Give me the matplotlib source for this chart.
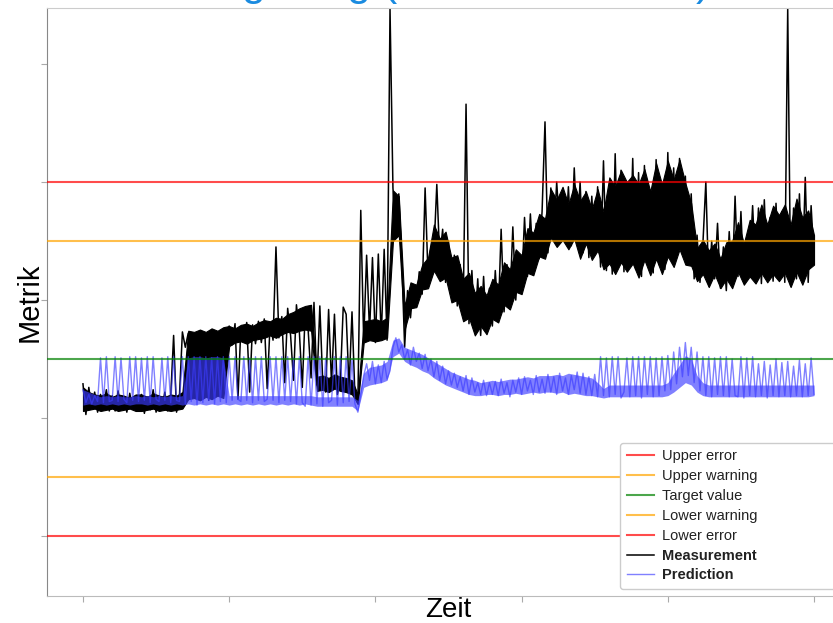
import numpy as np
import matplotlib
matplotlib.use("Agg")
import matplotlib.pyplot as plt

plt.rcParams['font.family'] = ['Liberation Sans', 'DejaVu Sans']

# limits (Metrik units)
limit_values = [65.0, 60.0, 50.0, 40.0, 35.0]
limit_labels = ["Upper error", "Upper warning", "Target value", "Lower warning", "Lower error"]
limit_colors = ["red", "orange", "green", "orange", "red"]

meas = [
    47.9, 45.3, 47.6, 45.8, 47.2, 45.5, 47.0, 46.0, 47.4, 45.6,
    46.9, 45.6, 47.3, 45.9, 46.8, 45.5, 47.1, 45.8, 46.6, 45.6,
    47.0, 45.4, 46.8, 45.7, 47.4, 45.5, 46.9, 45.9, 47.2, 45.6,
    46.8, 52.0, 45.5, 46.9, 52.3, 51.0, 52.2, 46.8, 52.0, 51.2,
    52.4, 50.9, 52.1, 46.5, 52.5, 51.0, 51.9, 47.0, 52.2, 50.8,
    52.8, 51.2, 53.0, 46.6, 52.7, 51.5, 53.1, 47.2, 52.9, 51.3,
    53.2, 51.4, 53.4, 47.5, 53.0, 51.6, 59.5, 51.8, 53.6, 48.0,
    54.3, 52.0, 48.2, 54.6, 52.3, 47.6, 54.0, 52.5, 48.4, 54.8,
    47.8, 54.5, 48.0, 47.2, 54.2, 47.9, 53.8, 47.0, 48.1, 54.4,
    53.8, 47.6, 54.0, 46.9, 46.2, 62.6, 51.5, 58.8, 52.3, 58.6,
    51.4, 58.9, 51.8, 59.3, 51.6, 79.7, 64.5, 60.5, 64.0, 58.5,
    51.0, 55.8, 53.5, 56.3, 54.8, 57.4, 55.5, 64.5, 57.0, 59.5,
    59.0, 64.8, 58.5, 61.0, 56.5, 60.0, 55.5, 58.8, 54.5, 58.0,
    53.8, 71.6, 53.0, 57.5, 52.4, 56.8, 52.0, 57.0, 52.3, 56.0,
    52.8, 57.5, 53.5, 61.0, 54.0, 58.0, 54.8, 61.2, 55.0, 58.6,
    56.0, 62.0, 57.0, 62.3, 57.8, 61.5, 58.5, 62.5, 70.1, 59.0,
    64.5, 60.2, 65.0, 61.0, 63.8, 60.0, 64.6, 59.6, 66.2, 60.4,
    65.0, 59.0, 64.2, 58.6, 63.8, 59.3, 64.6, 57.8, 66.8, 57.5,
    63.5, 57.2, 67.4, 58.0, 66.0, 57.4, 64.5, 58.2, 67.0, 57.6,
    65.8, 57.0, 66.4, 58.5, 64.2, 57.3, 66.9, 58.0, 64.8, 57.6,
    67.5, 58.5, 66.2, 59.0, 67.0, 60.2, 65.5, 58.0, 64.0, 56.8,
    60.5, 56.5, 59.8, 65.0, 56.2, 60.0, 56.8, 61.5, 56.0, 59.5,
    55.8, 60.8, 56.2, 63.8, 57.0, 62.5, 56.5, 60.2, 58.0, 63.0,
    57.5, 62.8, 56.4, 63.5, 57.0, 62.0, 56.6, 63.2, 57.2, 62.5,
    56.5, 79.7, 56.2, 62.8, 56.8, 64.0, 57.0, 65.4, 56.5, 63.0,
    58.5,
]

# dense part of the measurement (lower / upper edge)
meas_lo = [
    45.6, 45.7, 45.8, 45.6, 45.7, 45.8, 45.6, 45.7, 45.8, 45.6,
    45.6, 45.7, 45.8, 45.6, 45.7, 45.6, 45.7, 45.8, 46.6, 46.7,
    46.5, 46.8, 46.6, 46.9, 46.7, 51.1, 51.4, 51.5, 51.3, 51.6,
    51.7, 51.8, 52.0, 51.8, 52.1, 52.3, 52.2, 52.4, 52.5, 52.4,
    47.3, 47.4, 47.2, 47.5, 47.3, 47.2, 47.0, 46.2, 51.4, 51.6,
    51.5, 51.6, 51.8, 60.0, 60.5, 52.5, 54.3, 54.4, 55.9, 56.0,
    57.5, 56.6, 56.9, 54.8, 55.0, 53.2, 53.5, 52.0, 52.8, 52.1,
    53.4, 53.1, 54.6, 54.2, 55.7, 55.5, 57.3, 57.1, 58.7, 58.5,
    60.3, 59.5, 60.1, 59.3, 60.2, 58.5, 59.8, 58.4, 59.2, 57.6,
    58.1, 57.2, 58.2, 57.4, 58.1, 56.9, 58.4, 57.1, 58.5, 57.2,
    58.7, 57.8, 59.3, 58.0, 57.9, 56.6, 57.2, 56.1, 57.2, 56.0,
    56.8, 56.0, 57.4, 56.3, 57.0, 56.4, 57.3, 56.5, 57.2, 56.6,
    57.3, 56.1, 57.4, 56.3, 57.6, 58.0,
]
meas_hi = [
    47.6, 47.2, 47.0, 46.9, 47.1, 46.8, 47.0, 46.9, 46.7, 47.0,
    47.0, 46.8, 47.1, 46.9, 46.8, 47.0, 46.9, 47.2, 52.4, 52.3,
    52.5, 52.3, 52.6, 52.4, 52.7, 52.8, 52.6, 52.9, 53.0, 52.8,
    53.1, 53.3, 53.2, 53.5, 53.4, 53.8, 54.0, 54.3, 54.5, 54.6,
    48.5, 48.6, 48.4, 48.7, 48.5, 48.4, 48.2, 47.0, 53.2, 53.3,
    53.4, 53.2, 53.5, 64.3, 63.8, 54.5, 56.5, 56.3, 58.0, 58.6,
    61.4, 60.2, 60.8, 58.6, 58.8, 56.8, 57.3, 55.6, 56.2, 55.4,
    56.8, 56.3, 58.2, 57.6, 59.3, 58.8, 61.1, 60.7, 62.3, 61.9,
    64.4, 63.5, 64.6, 63.1, 64.8, 63.4, 64.2, 62.7, 64.4, 62.5,
    65.4, 64.6, 66.0, 65.0, 65.6, 64.8, 66.1, 64.2, 66.6, 64.8,
    66.8, 65.2, 66.9, 64.9, 63.2, 59.4, 60.1, 59.2, 59.8, 58.5,
    59.9, 60.0, 61.6, 59.8, 61.8, 61.4, 63.1, 61.4, 63.0, 62.2,
    63.1, 61.4, 63.6, 62.0, 62.6, 60.5,
]

# prediction, single samples (comb teeth up to the target line)
pred = [
    47.4, 46.3, 47.0, 46.2, 46.9, 46.4, 50.1, 46.3, 50.2, 46.4,
    46.5, 50.2, 46.4, 50.1, 46.6, 46.3, 50.2, 46.5, 50.2, 46.4,
    50.1, 46.5, 50.2, 46.3, 50.2, 46.6, 46.4, 50.1, 46.5, 50.2,
    46.3, 50.2, 46.5, 46.4, 50.2, 46.2, 50.2, 46.4, 50.2, 46.1,
    50.2, 46.3, 50.2, 46.5, 50.1, 46.2, 50.2, 46.4, 50.2, 46.3,
    50.2, 46.5, 50.2, 46.6, 46.4, 50.2, 46.5, 50.1, 46.3, 50.2,
    46.5, 50.2, 46.4, 46.6, 50.2, 46.5, 50.2, 46.3, 50.2, 46.5,
    50.2, 46.4, 50.1, 46.2, 50.2, 46.3, 46.0, 50.2, 46.1, 50.2,
    46.2, 50.2, 46.0, 50.1, 46.3, 46.5, 50.2, 46.1, 50.2, 46.3,
    50.2, 46.4, 50.0, 46.2, 45.5, 47.0, 48.6, 49.6, 48.2, 49.8,
    47.9, 49.5, 48.0, 49.8, 48.3, 49.0, 51.0, 51.8, 50.6, 51.2,
    50.0, 50.8, 49.5, 51.0, 49.8, 50.5, 49.2, 50.4, 49.0, 50.0,
    48.5, 49.8, 48.2, 49.4, 47.9, 49.0, 47.8, 48.8, 47.6, 48.5,
    47.3, 48.6, 47.0, 48.4, 47.2, 48.0, 47.0, 48.2, 46.9, 48.0,
    47.0, 48.1, 46.9, 48.3, 47.1, 48.0, 46.8, 48.2, 47.2, 48.4,
    47.0, 48.5, 47.3, 48.2, 47.0, 48.6, 47.2, 48.3, 47.1, 48.7,
    47.2, 48.5, 47.0, 48.8, 47.3, 48.4, 47.0, 48.6, 47.4, 48.9,
    47.1, 48.8, 47.0, 48.5, 46.9, 48.7, 46.8, 50.2, 46.9, 50.1,
    46.8, 50.2, 47.0, 50.2, 46.7, 47.2, 50.1, 46.8, 50.2, 46.9,
    50.2, 46.7, 50.2, 47.0, 50.2, 46.8, 50.1, 46.9, 50.2, 47.3,
    50.3, 47.4, 50.6, 47.9, 51.0, 48.5, 51.4, 48.6, 51.0, 48.0,
    50.6, 47.3, 50.2, 46.9, 50.2, 46.8, 50.1, 47.0, 50.2, 46.9,
    50.2, 46.8, 50.0, 46.9, 46.8, 50.2, 46.7, 50.1, 46.9, 50.2,
    46.8, 49.6, 46.9, 49.8, 46.7, 49.5, 46.9, 50.0, 46.8, 49.7,
    46.9, 49.8, 46.8, 49.4, 46.9, 49.9, 46.8, 49.6, 46.9, 50.1,
    47.0,
]

# dense part of the prediction
pred_lo = [
    46.1, 46.2, 46.1, 46.2, 46.1, 46.2, 46.1, 46.2, 46.1, 46.2,
    46.2, 46.1, 46.2, 46.1, 46.2, 46.1, 46.2, 46.1, 46.2, 46.1,
    46.2, 46.1, 46.2, 46.1, 46.2, 46.1, 46.2, 46.1, 46.2, 46.1,
    46.2, 46.1, 46.2, 46.1, 46.2, 46.1, 46.2, 46.1, 46.2, 46.1,
    46.0, 46.0, 46.0, 46.0, 46.0, 46.0, 46.0, 45.6, 47.6, 47.8,
    47.9, 48.0, 48.2, 50.2, 50.5, 49.8, 49.5, 49.3, 49.0, 48.8,
    48.4, 48.1, 47.8, 47.6, 47.4, 47.2, 47.0, 46.9, 46.9, 47.0,
    47.0, 46.9, 47.0, 47.0, 47.1, 47.0, 47.1, 47.2, 47.1, 47.2,
    47.2, 47.1, 47.2, 47.0, 47.1, 47.0, 46.9, 46.9, 46.8, 46.7,
    46.8, 46.8, 46.8, 46.8, 46.8, 46.8, 46.8, 46.8, 46.8, 46.8,
    46.9, 47.2, 47.6, 48.0, 47.8, 47.2, 46.9, 46.8, 46.8, 46.8,
    46.8, 46.8, 46.8, 46.8, 46.8, 46.8, 46.8, 46.8, 46.8, 46.8,
    46.8, 46.8, 46.8, 46.8, 46.8, 46.9,
]
pred_hi = [
    47.4, 47.2, 47.0, 46.8, 46.9, 46.8, 46.9, 46.8, 46.8, 46.9,
    46.8, 46.9, 46.8, 46.9, 46.8, 46.9, 46.8, 46.9, 50.1, 50.2,
    50.2, 50.1, 50.2, 50.2, 50.1, 46.9, 46.9, 46.9, 46.9, 46.9,
    46.9, 46.9, 46.9, 46.9, 46.9, 46.9, 46.9, 46.9, 46.9, 46.9,
    46.8, 46.8, 46.8, 46.8, 46.8, 46.8, 46.8, 46.5, 48.8, 49.3,
    49.4, 49.5, 49.8, 51.6, 51.8, 51.0, 50.8, 50.6, 50.4, 50.1,
    49.8, 49.5, 49.2, 48.9, 48.7, 48.5, 48.3, 48.2, 48.0, 48.1,
    48.2, 48.1, 48.2, 48.3, 48.3, 48.4, 48.5, 48.4, 48.6, 48.6,
    48.6, 48.7, 48.6, 48.8, 48.7, 48.6, 48.5, 48.4, 48.0, 47.5,
    47.8, 47.8, 47.8, 47.8, 47.8, 47.8, 47.8, 47.8, 47.8, 47.8,
    48.0, 48.8, 49.5, 50.3, 50.0, 48.6, 48.0, 47.8, 47.8, 47.8,
    47.8, 47.8, 47.8, 47.8, 47.8, 47.8, 47.8, 47.8, 47.8, 47.8,
    47.8, 47.8, 47.8, 47.8, 47.8, 47.8,
]

t_meas = np.linspace(0, 5, len(meas))
t_pred = np.linspace(0, 5, len(pred))
t_band = np.linspace(0, 5, len(meas_lo))
t_pband = np.linspace(0, 5, len(pred_lo))

pred_color = "#3c3cff"

fig = plt.figure(figsize=(8.33, 6.23), dpi=100)
ax = fig.add_axes([47 / 833, 27 / 623, 803 / 833, 588 / 623])

lines = []
for val, lab, col in zip(limit_values, limit_labels, limit_colors):
    ln = ax.axhline(val, color=col, alpha=0.7, lw=1.5, label=lab, zorder=3)
    lines.append(ln)

ax.fill_between(t_band, meas_lo, meas_hi, color="black", lw=0.8, zorder=1)
m_line, = ax.plot(t_meas, meas, color="black", lw=1.1, label="Measurement", zorder=1)
ax.fill_between(t_pband, pred_lo, pred_hi, color=pred_color, alpha=0.65, lw=0, zorder=2)
p_line, = ax.plot(t_pred, pred, color=pred_color, alpha=0.65, lw=1.0,
                  label="Prediction", zorder=2)

ax.set_xlim(-0.246, 5.246)
ax.set_ylim(29.92, 79.75)
ax.set_xticks(range(6))
ax.set_yticks([35, 45, 55, 65, 75])
ax.set_xticklabels([])
ax.set_yticklabels([])
ax.tick_params(length=4, width=0.8, color="#aaaaaa")

ax.spines["left"].set_color("#888888")
ax.spines["bottom"].set_color("#bbbbbb")
ax.spines["top"].set_color("#cccccc")
ax.spines["right"].set_color("#cccccc")

ax.set_xlabel("Zeit", fontsize=20, labelpad=-7)
ax.set_ylabel("Metrik", fontsize=21, labelpad=-5)
ax.set_title("Regelung (Metrik über Zeit)", fontsize=31, color="#1a8be0", pad=9)

leg = ax.legend(handles=lines + [m_line, p_line], loc="lower left",
                bbox_to_anchor=(620 / 833, 34 / 623, 223 / 833, 150 / 623),
                bbox_transform=fig.transFigure, mode="expand", borderaxespad=0,
                fontsize=10.5, labelspacing=0.4, handlelength=1.9, handletextpad=0.5,
                borderpad=0.45, frameon=True, fancybox=True, edgecolor="#cccccc",
                framealpha=1.0)
for txt in leg.get_texts():
    txt.set_color("#222222")
leg.get_texts()[5].set_fontweight("bold")
leg.get_texts()[6].set_fontweight("bold")

fig.savefig("out.png", dpi=100)
